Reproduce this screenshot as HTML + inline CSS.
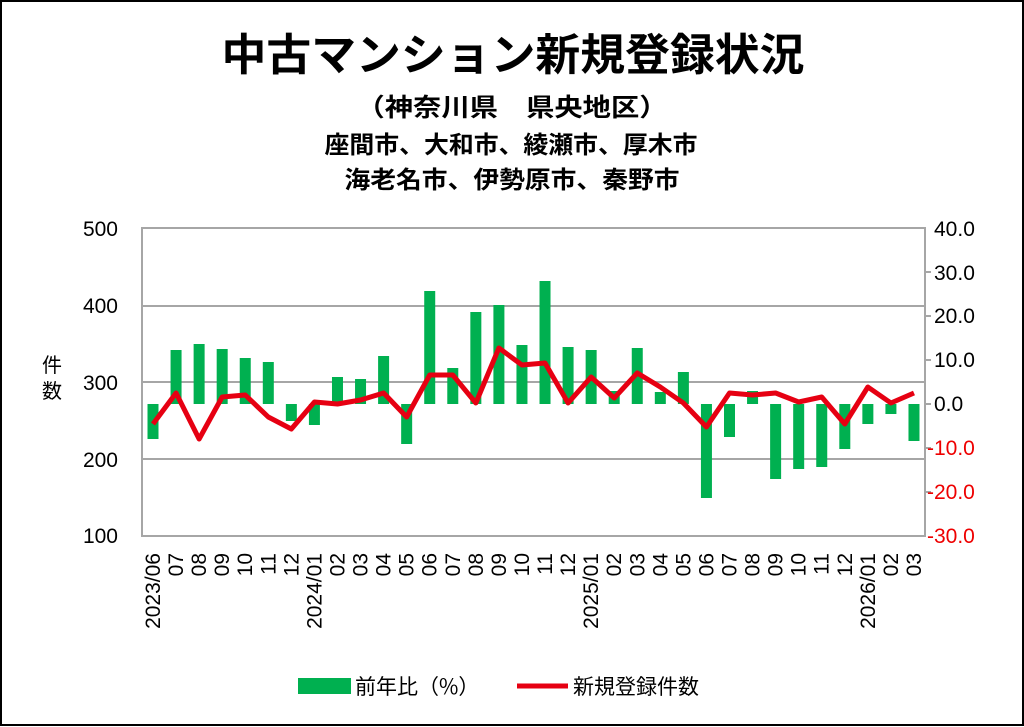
<!DOCTYPE html>
<html><head><meta charset="utf-8"><style>
html,body{margin:0;padding:0;background:#fff}
svg{display:block}
text{font-family:"Liberation Sans","Noto Sans CJK JP",sans-serif}
</style></head><body>
<svg width="1024" height="727" viewBox="0 0 1024 727" xmlns="http://www.w3.org/2000/svg">
<rect x="1" y="1" width="1022" height="724" fill="#fff" stroke="#000" stroke-width="2"/>
<text x="513" y="70" font-size="44" font-weight="bold" text-anchor="middle" textLength="583" lengthAdjust="spacingAndGlyphs" style="font-family:'Noto Sans CJK JP',sans-serif">中古マンション新規登録状況</text>
<text x="512" y="116" font-size="25" font-weight="bold" text-anchor="middle" textLength="311" lengthAdjust="spacingAndGlyphs" style="font-family:'Noto Sans CJK JP',sans-serif">（神奈川県　県央地区）</text>
<text x="511" y="153" font-size="24" font-weight="bold" text-anchor="middle" textLength="373" lengthAdjust="spacingAndGlyphs" style="font-family:'Noto Sans CJK JP',sans-serif">座間市、大和市、綾瀬市、厚木市</text>
<text x="512" y="188" font-size="24" font-weight="bold" text-anchor="middle" textLength="335" lengthAdjust="spacingAndGlyphs" style="font-family:'Noto Sans CJK JP',sans-serif">海老名市、伊勢原市、秦野市</text>
<g stroke="#a6a6a6" stroke-width="2" fill="none">
<line x1="142" y1="306" x2="925" y2="306"/>
<line x1="142" y1="382" x2="925" y2="382"/>
<line x1="142" y1="459" x2="925" y2="459"/>
<rect x="142" y="228" width="783" height="308"/>
<line x1="925" y1="272" x2="931" y2="272"/><line x1="925" y1="316" x2="931" y2="316"/><line x1="925" y1="360" x2="931" y2="360"/><line x1="925" y1="404" x2="931" y2="404"/><line x1="925" y1="448" x2="931" y2="448"/><line x1="925" y1="492" x2="931" y2="492"/>
</g>
<g font-size="21" text-anchor="end" fill="#000">
<text x="118" y="236">500</text><text x="118" y="313">400</text><text x="118" y="390">300</text><text x="118" y="467">200</text><text x="118" y="543">100</text>
</g>
<g font-size="21" fill="#000">
<text x="934" y="236">40.0</text><text x="934" y="280">30.0</text><text x="934" y="323">20.0</text><text x="934" y="367">10.0</text><text x="934" y="411">0.0</text>
<text x="927" y="455" fill="#e00">-10.0</text><text x="927" y="499" fill="#e00">-20.0</text><text x="927" y="543" fill="#e00">-30.0</text>
</g>
<text x="52" y="372" font-size="20" text-anchor="middle" style="font-family:'Noto Sans CJK JP',sans-serif">件</text>
<text x="52" y="398" font-size="20" text-anchor="middle" style="font-family:'Noto Sans CJK JP',sans-serif">数</text>
<g id="bars" fill="#00b050"></g>
<polyline id="ln" fill="none" stroke="#e60012" stroke-width="5" stroke-linejoin="round"/>
<g id="xl" font-size="21" fill="#000"></g>
<rect x="298" y="678" width="53" height="16" fill="#00b050"/>
<text x="355" y="694" font-size="21" style="font-family:'Noto Sans CJK JP',sans-serif">前年比（%）</text>
<line x1="517" y1="686" x2="568" y2="686" stroke="#e60012" stroke-width="5"/>
<text x="573" y="694" font-size="21" style="font-family:'Noto Sans CJK JP',sans-serif">新規登録件数</text>
<script>
var bars=[439,350,344,349,358,362,421,425,377,379,356,444,291,368,312,305,345,281,347,350,391,348,392,372,498,437,391,479,469,467,449,424,414,441];
var line=[424,393,439,397,395,417,429,402,404,400,393,417,375,375,403,348,365,363,403,377,398,373,387,403,427,393,395,393,402,397,424,387,403,393];
var labs=["2023/06","07","08","09","10","11","12","2024/01","02","03","04","05","06","07","08","09","10","11","12","2025/01","02","03","04","05","06","07","08","09","10","11","12","2026/01","02","03"];
var ns="http://www.w3.org/2000/svg",z=404,b=document.getElementById("bars"),xl=document.getElementById("xl"),pts=[];
for(var i=0;i<34;i++){var cx=153+i*23.06;var y=bars[i];
var r=document.createElementNS(ns,"rect");r.setAttribute("x",cx-5.5);r.setAttribute("width",11);
r.setAttribute("y",Math.min(y,z));r.setAttribute("height",Math.abs(y-z));b.appendChild(r);
pts.push(cx+","+line[i]);
var t=document.createElementNS(ns,"text");t.setAttribute("transform","translate("+(cx+7)+",553) rotate(-90)");t.setAttribute("text-anchor","end");t.textContent=labs[i];xl.appendChild(t);}
document.getElementById("ln").setAttribute("points",pts.join(" "));
</script>
</svg>
</body></html>
